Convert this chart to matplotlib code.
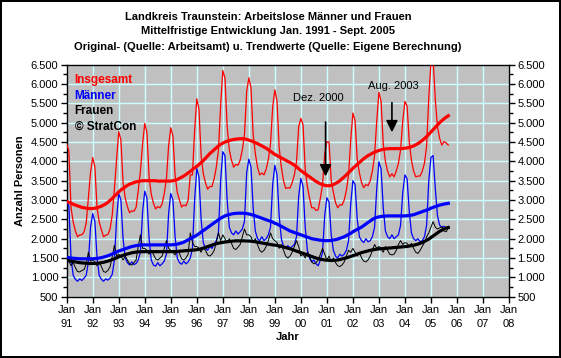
import numpy as np
import matplotlib
matplotlib.use("Agg")
import matplotlib.pyplot as plt
from matplotlib.ticker import FuncFormatter, MultipleLocator

plt.rcParams['font.family'] = ['Liberation Sans', 'DejaVu Sans']

# monthly values Jan 1991 - Sep 2005
insgesamt = [
    4450, 4270, 2800, 2430, 2200, 2050, 2100, 2100, 2180, 2400, 3050, 3720,   # 1991
    4100, 3850, 2800, 2430, 2230, 2050, 2090, 2110, 2250, 2610, 3280, 4050,   # 1992
    4770, 4550, 3450, 3050, 2830, 2670, 2720, 2710, 2810, 3250, 3750, 4450,   # 1993
    4980, 4750, 3600, 3150, 2920, 2770, 2830, 2800, 2900, 3170, 3550, 4400,   # 1994
    4870, 4650, 3630, 3200, 3000, 2820, 2870, 2850, 3000, 3650, 3650, 4800,   # 1995
    5620, 5350, 4150, 3680, 3450, 3280, 3350, 3350, 3550, 3850, 4300, 5450,   # 1996
    6350, 6150, 4900, 4300, 4030, 3850, 3920, 3900, 4030, 4300, 4700, 5800,   # 1997
    6160, 5900, 4700, 4200, 3850, 3650, 3700, 3650, 3800, 4050, 4450, 5400,   # 1998
    5850, 5550, 4350, 3850, 3500, 3300, 3320, 3310, 3450, 3650, 4000, 4900,   # 1999
    5110, 4950, 3800, 3350, 3050, 2800, 2800, 2730, 2750, 3050, 3400, 4200,   # 2000
    4510, 4500, 3500, 3200, 2930, 2800, 2880, 2870, 3000, 3250, 3650, 4550,   # 2001
    5250, 5050, 4050, 3700, 3450, 3320, 3400, 3370, 3500, 3750, 4150, 5050,   # 2002
    5790, 5550, 4450, 4000, 3750, 3600, 3680, 3600, 3750, 3950, 4300, 5050,   # 2003
    5550, 5430, 4500, 4030, 3750, 3600, 3620, 3620, 3750, 3950, 4400, 5650,   # 2004
    6550, 6650, 5600, 4900, 4600, 4420, 4510, 4480, 4420,                     # 2005
]
maenner = [
    2950, 2850, 1500, 1050, 950, 900, 960, 920, 980, 1050, 1400, 2300,
    2650, 2450, 1500, 1050, 950, 900, 960, 930, 980, 1080, 1450, 2500,
    3170, 3000, 2000, 1500, 1380, 1320, 1400, 1330, 1360, 1450, 1650, 2700,
    3230, 3050, 2000, 1450, 1320, 1290, 1380, 1300, 1350, 1420, 1600, 2650,
    3170, 3000, 2050, 1500, 1380, 1340, 1420, 1350, 1400, 1500, 1750, 3000,
    3820, 3600, 2500, 1900, 1750, 1700, 1800, 1750, 1850, 1950, 2150, 3500,
    4250, 4150, 3000, 2300, 2150, 2100, 2200, 2120, 2180, 2250, 2450, 3700,
    4060, 3850, 2800, 2200, 2000, 1950, 2050, 1950, 2000, 2100, 2300, 3400,
    3900, 3650, 2600, 2000, 1800, 1750, 1820, 1760, 1800, 1850, 2050, 3100,
    3560, 3350, 2300, 1700, 1500, 1400, 1450, 1350, 1300, 1450, 1650, 2600,
    3060, 2950, 2100, 1700, 1550, 1500, 1600, 1550, 1600, 1700, 1950, 2900,
    3500, 3400, 2500, 2050, 1950, 1900, 2000, 1920, 1950, 2050, 2300, 3300,
    3990, 3800, 2800, 2200, 2050, 2000, 2100, 2000, 2050, 2100, 2350, 3200,
    3650, 3550, 2700, 2150, 2000, 1950, 2000, 1920, 1950, 2050, 2350, 3500,
    4100, 4150, 3300, 2600, 2350, 2300, 2320, 2280, 2300,
]
frauen = [
    1500, 1420, 1300, 1380, 1250, 1150, 1140, 1180, 1200, 1350, 1650, 1420,
    1450, 1400, 1300, 1380, 1280, 1150, 1130, 1180, 1270, 1530, 1830, 1550,
    1600, 1550, 1450, 1550, 1450, 1350, 1320, 1380, 1450, 1800, 2100, 1750,
    1750, 1700, 1600, 1700, 1600, 1480, 1450, 1500, 1550, 1750, 1950, 1750,
    1700, 1650, 1580, 1700, 1620, 1480, 1450, 1500, 1600, 2150, 1900, 1800,
    1800, 1750, 1650, 1780, 1700, 1580, 1550, 1600, 1700, 1900, 2150, 1950,
    2100, 2000, 1900, 2000, 1880, 1750, 1720, 1780, 1850, 2050, 2250, 2100,
    2100, 2050, 1900, 2000, 1850, 1700, 1650, 1700, 1800, 1950, 2150, 2000,
    1950, 1900, 1750, 1850, 1700, 1550, 1500, 1550, 1650, 1800, 1950, 1800,
    1550, 1600, 1500, 1650, 1550, 1400, 1350, 1380, 1450, 1600, 1750, 1600,
    1450, 1550, 1400, 1500, 1380, 1300, 1280, 1320, 1400, 1550, 1700, 1650,
    1750, 1650, 1550, 1650, 1500, 1420, 1400, 1450, 1550, 1700, 1850, 1750,
    1800, 1750, 1650, 1800, 1700, 1600, 1580, 1600, 1700, 1850, 1950, 1850,
    1900, 1880, 1800, 1880, 1750, 1650, 1620, 1700, 1800, 1900, 2050, 2150,
    2300, 2440, 2300, 2250, 2280, 2310, 2200, 2180, 2270,
]

# trend values (Eigene Berechnung)
trend_insgesamt = [
    2960, 2940, 2920, 2890, 2870, 2850, 2830, 2810, 2800, 2790, 2780, 2780,
    2780, 2790, 2800, 2820, 2840, 2870, 2900, 2940, 2990, 3040, 3100, 3150,
    3210, 3260, 3300, 3340, 3380, 3410, 3430, 3450, 3470, 3480, 3490, 3500,
    3500, 3500, 3500, 3500, 3500, 3500, 3490, 3490, 3490, 3490, 3490, 3490,
    3490, 3500, 3510, 3530, 3560, 3590, 3620, 3660, 3700, 3740, 3790, 3830,
    3870, 3920, 3970, 4020, 4080, 4140, 4200, 4250, 4300, 4350, 4400, 4440,
    4470, 4500, 4520, 4540, 4555, 4565, 4575, 4580, 4585, 4585, 4580, 4570,
    4550, 4530, 4510, 4480, 4460, 4430, 4400, 4370, 4340, 4300, 4260, 4220,
    4180, 4150, 4120, 4090, 4060, 4030, 4000, 3970, 3940, 3900, 3860, 3810,
    3760, 3720, 3680, 3640, 3600, 3560, 3520, 3480, 3450, 3420, 3400, 3380,
    3370, 3370, 3380, 3400, 3430, 3460, 3500, 3550, 3600, 3650, 3710, 3760,
    3820, 3870, 3920, 3970, 4020, 4070, 4110, 4150, 4180, 4210, 4240, 4260,
    4280, 4300, 4310, 4320, 4325, 4330, 4330, 4330, 4330, 4330, 4330, 4335,
    4340, 4350, 4360, 4380, 4400, 4430, 4460, 4500, 4540, 4590, 4640, 4700,
    4760, 4820, 4880, 4940, 5000, 5050, 5100, 5140, 5180,
]
trend_maenner = [
    1520, 1510, 1500, 1495, 1490, 1485, 1480, 1480, 1480, 1480, 1480, 1480,
    1480, 1485, 1490, 1500, 1510, 1525, 1540, 1560, 1580, 1605, 1630, 1655,
    1680, 1700, 1720, 1740, 1760, 1780, 1795, 1810, 1820, 1830, 1835, 1840,
    1840, 1840, 1840, 1840, 1840, 1840, 1840, 1840, 1840, 1840, 1840, 1840,
    1840, 1845, 1850, 1860, 1875, 1890, 1910, 1940, 1970, 2000, 2030, 2060,
    2090, 2130, 2170, 2210, 2250, 2290, 2330, 2370, 2410, 2450, 2490, 2530,
    2560, 2590, 2610, 2625, 2640, 2650, 2655, 2660, 2660, 2660, 2655, 2650,
    2640, 2625, 2610, 2590, 2570, 2550, 2530, 2510, 2490, 2470, 2450, 2430,
    2400, 2380, 2350, 2320, 2290, 2260, 2230, 2200, 2180, 2160, 2140, 2120,
    2100, 2080, 2060, 2040, 2020, 2000, 1990, 1980, 1970, 1960, 1955, 1950,
    1950, 1950, 1955, 1965, 1975, 1990, 2010, 2030, 2050, 2080, 2110, 2140,
    2180, 2210, 2240, 2270, 2300, 2340, 2380, 2420, 2460, 2500, 2530, 2550,
    2565, 2575, 2580, 2585, 2590, 2590, 2590, 2590, 2590, 2590, 2590, 2590,
    2590, 2595, 2600, 2610, 2620, 2640, 2660, 2680, 2700, 2720, 2740, 2760,
    2790, 2810, 2830, 2850, 2870, 2880, 2895, 2905, 2915,
]
trend_frauen = [
    1440, 1430, 1420, 1410, 1400, 1390, 1380, 1375, 1370, 1365, 1360, 1360,
    1360, 1360, 1365, 1370, 1380, 1390, 1405, 1420, 1440, 1460, 1480, 1505,
    1530, 1550, 1570, 1590, 1605, 1620, 1635, 1645, 1655, 1660, 1665, 1665,
    1665, 1665, 1665, 1665, 1665, 1665, 1665, 1665, 1665, 1665, 1665, 1665,
    1665, 1665, 1670, 1670, 1675, 1680, 1685, 1690, 1695, 1700, 1705, 1710,
    1715, 1725, 1740, 1755, 1775, 1795, 1815, 1835, 1855, 1870, 1885, 1895,
    1905, 1915, 1920, 1930, 1935, 1940, 1945, 1945, 1945, 1945, 1945, 1940,
    1940, 1935, 1930, 1920, 1910, 1900, 1890, 1880, 1870, 1860, 1850, 1840,
    1835, 1825, 1815, 1800, 1785, 1770, 1755, 1740, 1720, 1700, 1680, 1660,
    1640, 1620, 1600, 1580, 1560, 1540, 1520, 1500, 1485, 1470, 1460, 1450,
    1445, 1440, 1440, 1440, 1445, 1450, 1460, 1475, 1490, 1505, 1520, 1540,
    1560, 1580, 1600, 1620, 1640, 1655, 1670, 1685, 1700, 1710, 1720, 1730,
    1735, 1740, 1745, 1750, 1755, 1760, 1765, 1770, 1775, 1780, 1785, 1790,
    1795, 1800, 1810, 1820, 1830, 1845, 1860, 1880, 1900, 1930, 1960, 1990,
    2030, 2070, 2110, 2150, 2190, 2220, 2250, 2275, 2290,
]

years = list(range(1991, 2009))
year_labels = ["Jan\n" + str(y)[2:] for y in years]

# x position: decimal year, one step per month
t = 1991 + np.arange(len(insgesamt)) / 12.0

fig = plt.figure(figsize=(5.61, 3.58), dpi=100, facecolor="white",
                 edgecolor="black", linewidth=1.5)
ax = fig.add_axes([66.7 / 561, 1 - 296.7 / 358, 442.3 / 561, 232 / 358])
ax.set_facecolor("#C0C0C0")

# raw series (thin) and trends (thick)
ax.plot(t, insgesamt, color="red", lw=0.9, zorder=3)
ax.plot(t, maenner, color="blue", lw=0.9, zorder=3)
ax.plot(t, frauen, color="black", lw=0.7, zorder=3)
ax.plot(t, trend_insgesamt, color="red", lw=2.3, zorder=4)
ax.plot(t, trend_maenner, color="blue", lw=2.3, zorder=4)
ax.plot(t, trend_frauen, color="black", lw=2.3, zorder=4)

ax.set_xlim(1991, 2008)
ax.set_ylim(500, 6500)
ax.set_xticks(years)
ax.set_xticklabels(year_labels, fontsize=8, linespacing=1.5)
ax.yaxis.set_major_locator(MultipleLocator(500))
ax.yaxis.set_minor_locator(MultipleLocator(250))
ax.yaxis.set_major_formatter(FuncFormatter(lambda v, p: f"{v:,.0f}".replace(",", ".")))
ax.tick_params(axis="both", which="both", direction="out", colors="black",
               labelsize=8, right=True, labelright=True)
ax.tick_params(axis="both", which="major", length=4, width=1)
ax.tick_params(axis="y", which="minor", length=3, width=1)
ax.tick_params(axis="x", pad=2)
ax.tick_params(axis="y", pad=2)
ax.grid(True, which="major", color="#CCFFFF", lw=1, zorder=1)
ax.set_axisbelow(True)
for s in ax.spines.values():
    s.set_color("black")
    s.set_linewidth(1)

ax.set_ylabel("Anzahl Personen", fontsize=8, fontweight="bold", labelpad=4)
ax.set_xlabel("Jahr", fontsize=8, fontweight="bold", labelpad=2)

# title
title_lines = ["Landkreis Traunstein: Arbeitslose Männer und Frauen",
               "Mittelfristige Entwicklung Jan. 1991 - Sept. 2005",
               "Original- (Quelle: Arbeitsamt) u. Trendwerte (Quelle: Eigene Berechnung)"]
for i, line in enumerate(title_lines):
    fig.text(268 / 561, 1 - (19.5 + 15 * i) / 358, line, ha="center", va="baseline",
             fontsize=8, fontweight="bold")

# legend written as coloured text
legend_items = [("Insgesamt", "red"), ("Männer", "blue"), ("Frauen", "black"),
                ("© StratCon", "black")]
for i, (txt, col) in enumerate(legend_items):
    ax.text(0.018, (296.7 - 83 - 15.7 * i) / 232, txt, color=col, fontsize=8.5,
            fontweight="bold", transform=ax.transAxes, va="baseline", ha="left", zorder=6)

# annotation arrows
ax.annotate("", xy=(2000.95, 3540), xytext=(2000.95, 5090),
            arrowprops=dict(arrowstyle="-|>,head_length=0.7,head_width=0.35",
                            color="black", lw=1.2), zorder=6)
ax.text(2000.67, 5640, "Dez. 2000", fontsize=8, ha="center", va="center", zorder=6)
ax.annotate("", xy=(2003.5, 4680), xytext=(2003.5, 5590),
            arrowprops=dict(arrowstyle="-|>,head_length=0.7,head_width=0.35",
                            color="black", lw=1.2), zorder=6)
ax.text(2003.55, 5950, "Aug. 2003", fontsize=8, ha="center", va="center", zorder=6)

fig.savefig("out.png", dpi=100, facecolor="white", edgecolor="black")
